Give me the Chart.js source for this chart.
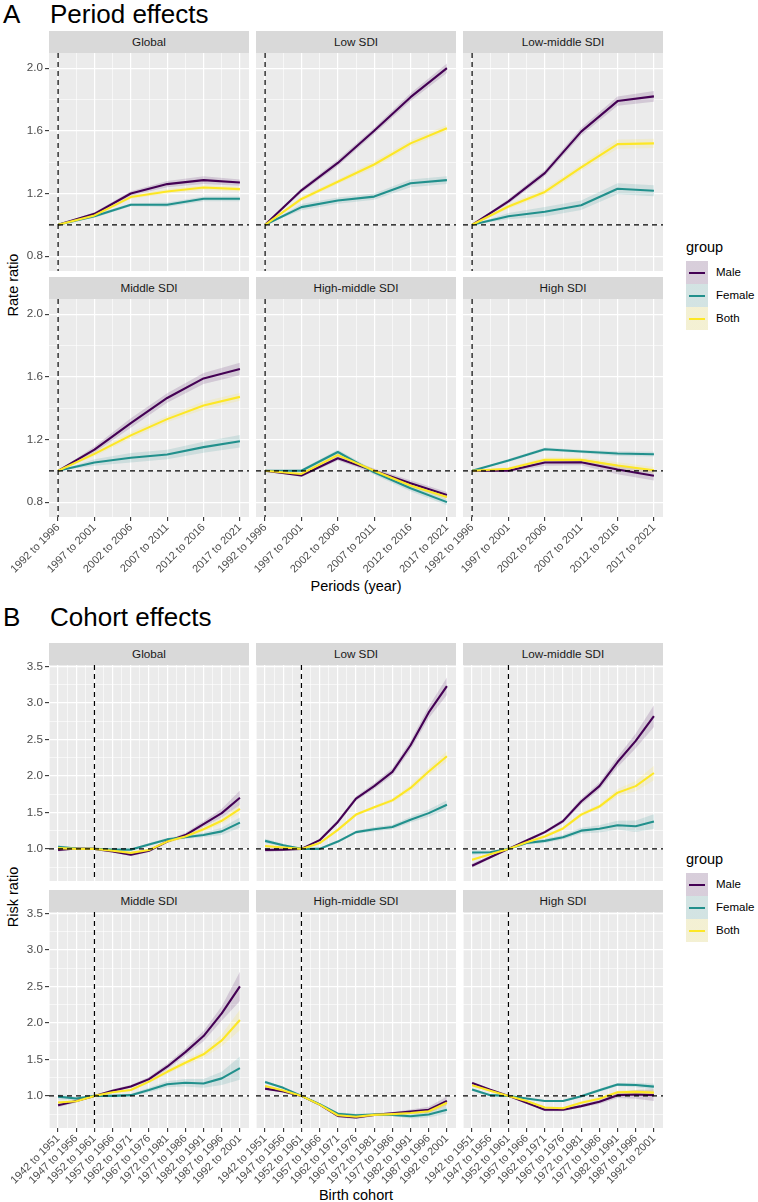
<!DOCTYPE html>
<html>
<head>
<meta charset="utf-8">
<script src="https://cdn.jsdelivr.net/npm/chart.js@4.4.1/dist/chart.umd.min.js"></script>
<style>
  body { margin: 0; background: #fff; font-family: "Liberation Sans", Arial, sans-serif; }
  #page { position: relative; width: 758px; height: 1202px; overflow: hidden; background: #fff; }
  .abs { position: absolute; white-space: nowrap; color: #000; }
  .strip { position: absolute; background: #D9D9D9; color: #1A1A1A; font-size: 11.7px; text-align: center; }
  canvas { position: absolute; }
</style>
</head>
<body>
<div id="page"></div>
<script>
// ---- data ----
const regions = ['Global', 'Low SDI', 'Low-middle SDI', 'Middle SDI', 'High-middle SDI', 'High SDI'];
const groups = ['Male', 'Female', 'Both'];
const periods = ['1992 to 1996', '1997 to 2001', '2002 to 2006', '2007 to 2011', '2012 to 2016', '2017 to 2021'];
const cohorts = ['1942 to 1951', '1947 to 1956', '1952 to 1961', '1957 to 1966', '1962 to 1971', '1967 to 1976',
                 '1972 to 1981', '1977 to 1986', '1982 to 1991', '1987 to 1996', '1992 to 2001'];
const periodTicks = [0.8, 1.2, 1.6, 2.0];
const cohortTicks = [1.0, 1.5, 2.0, 2.5, 3.0, 3.5];

// period rate ratios, one row per region (order of regions)
const periodMale = [
  [1.00, 1.07, 1.20, 1.26, 1.285, 1.27],
  [1.00, 1.22, 1.395, 1.60, 1.815, 2.00],
  [1.00, 1.15, 1.33, 1.595, 1.79, 1.82],
  [1.00, 1.135, 1.305, 1.465, 1.59, 1.65],
  [1.00, 0.97, 1.08, 1.00, 0.92, 0.845],
  [1.00, 1.00, 1.053, 1.055, 1.008, 0.968]
];
const periodFemale = [
  [1.00, 1.055, 1.128, 1.128, 1.166, 1.166],
  [1.00, 1.113, 1.155, 1.18, 1.265, 1.285],
  [1.00, 1.055, 1.083, 1.125, 1.23, 1.217],
  [1.00, 1.053, 1.083, 1.104, 1.151, 1.189],
  [1.00, 1.00, 1.12, 0.99, 0.889, 0.80],
  [1.00, 1.066, 1.138, 1.123, 1.11, 1.106]
];
const periodBoth = [
  [1.00, 1.06, 1.177, 1.213, 1.238, 1.228],
  [1.00, 1.165, 1.275, 1.385, 1.52, 1.617],
  [1.00, 1.117, 1.21, 1.366, 1.515, 1.52],
  [1.00, 1.108, 1.226, 1.33, 1.417, 1.472],
  [1.00, 0.98, 1.10, 1.00, 0.906, 0.832],
  [1.00, 1.013, 1.07, 1.07, 1.034, 1.004]
];
// half widths of the 95% bands
const periodMaleCI = [
  [0, 0.01, 0.015, 0.02, 0.025, 0.02],
  [0, 0.015, 0.02, 0.02, 0.025, 0.03],
  [0, 0.015, 0.02, 0.025, 0.03, 0.035],
  [0, 0.02, 0.03, 0.03, 0.035, 0.04],
  [0, 0.01, 0.015, 0.015, 0.02, 0.02],
  [0, 0.01, 0.02, 0.02, 0.03, 0.03]
];
const periodFemaleCI = [
  [0, 0.01, 0.01, 0.015, 0.015, 0.015],
  [0, 0.02, 0.02, 0.02, 0.025, 0.025],
  [0, 0.02, 0.03, 0.03, 0.035, 0.035],
  [0, 0.02, 0.03, 0.03, 0.035, 0.04],
  [0, 0.01, 0.015, 0.015, 0.02, 0.02],
  [0, 0.01, 0.01, 0.01, 0.015, 0.015]
];
const periodBothCI = [
  [0, 0.01, 0.01, 0.015, 0.015, 0.015],
  [0, 0.015, 0.015, 0.02, 0.02, 0.02],
  [0, 0.015, 0.02, 0.02, 0.03, 0.03],
  [0, 0.015, 0.02, 0.02, 0.025, 0.025],
  [0, 0.01, 0.01, 0.01, 0.015, 0.015],
  [0, 0.01, 0.015, 0.015, 0.02, 0.02]
];

// cohort risk ratios, one row per region
const cohortMale = [
  [0.985, 1.005, 1.00, 0.965, 0.92, 0.975, 1.10, 1.19, 1.34, 1.49, 1.70],
  [0.985, 0.99, 1.00, 1.12, 1.37, 1.69, 1.86, 2.055, 2.42, 2.87, 3.23],
  [0.77, 0.885, 1.00, 1.115, 1.23, 1.38, 1.65, 1.86, 2.19, 2.48, 2.82],
  [0.873, 0.93, 1.00, 1.07, 1.13, 1.23, 1.40, 1.60, 1.82, 2.13, 2.50],
  [1.10, 1.06, 1.00, 0.88, 0.725, 0.705, 0.74, 0.76, 0.785, 0.81, 0.93],
  [1.177, 1.086, 1.00, 0.905, 0.81, 0.81, 0.86, 0.92, 1.01, 1.02, 1.01]
];
const cohortFemale = [
  [1.03, 1.005, 1.00, 0.99, 0.99, 1.06, 1.13, 1.16, 1.19, 1.24, 1.36],
  [1.11, 1.05, 1.00, 1.00, 1.10, 1.23, 1.27, 1.30, 1.40, 1.49, 1.605],
  [0.95, 0.955, 1.00, 1.08, 1.11, 1.16, 1.25, 1.275, 1.325, 1.31, 1.375],
  [0.99, 0.965, 1.00, 1.00, 1.01, 1.08, 1.16, 1.18, 1.17, 1.24, 1.38],
  [1.19, 1.11, 1.00, 0.885, 0.755, 0.735, 0.745, 0.74, 0.72, 0.745, 0.81],
  [1.086, 1.01, 1.00, 0.965, 0.93, 0.93, 0.995, 1.077, 1.155, 1.15, 1.127]
];
const cohortBoth = [
  [1.01, 1.00, 1.00, 0.975, 0.945, 0.985, 1.10, 1.17, 1.27, 1.385, 1.55],
  [1.04, 1.02, 1.00, 1.08, 1.26, 1.47, 1.57, 1.665, 1.835, 2.06, 2.27],
  [0.85, 0.925, 1.00, 1.09, 1.17, 1.28, 1.47, 1.58, 1.77, 1.86, 2.04],
  [0.91, 0.927, 1.00, 1.05, 1.08, 1.195, 1.33, 1.455, 1.57, 1.76, 2.04],
  [1.135, 1.075, 1.00, 0.88, 0.735, 0.715, 0.74, 0.75, 0.765, 0.79, 0.905],
  [1.145, 1.07, 1.00, 0.93, 0.84, 0.83, 0.905, 0.96, 1.05, 1.055, 1.045]
];
const cohortMaleCI = [
  [0.02, 0.01, 0, 0.01, 0.02, 0.02, 0.02, 0.03, 0.04, 0.06, 0.10],
  [0.03, 0.02, 0, 0.02, 0.03, 0.03, 0.04, 0.05, 0.06, 0.08, 0.12],
  [0.03, 0.02, 0, 0.02, 0.02, 0.03, 0.04, 0.05, 0.07, 0.10, 0.15],
  [0.03, 0.02, 0, 0.02, 0.02, 0.03, 0.04, 0.05, 0.07, 0.10, 0.20],
  [0.02, 0.01, 0, 0.01, 0.02, 0.02, 0.02, 0.02, 0.03, 0.04, 0.06],
  [0.02, 0.01, 0, 0.01, 0.02, 0.02, 0.02, 0.03, 0.04, 0.06, 0.08]
];
const cohortFemaleCI = [
  [0.02, 0.01, 0, 0.01, 0.01, 0.02, 0.02, 0.02, 0.03, 0.05, 0.07],
  [0.03, 0.02, 0, 0.02, 0.02, 0.02, 0.03, 0.03, 0.04, 0.05, 0.06],
  [0.03, 0.02, 0, 0.02, 0.03, 0.03, 0.04, 0.05, 0.06, 0.08, 0.10],
  [0.04, 0.02, 0, 0.02, 0.02, 0.03, 0.04, 0.05, 0.06, 0.09, 0.16],
  [0.02, 0.01, 0, 0.01, 0.02, 0.02, 0.02, 0.02, 0.03, 0.04, 0.05],
  [0.02, 0.01, 0, 0.01, 0.01, 0.01, 0.02, 0.02, 0.02, 0.03, 0.04]
];
const cohortBothCI = [
  [0.01, 0.01, 0, 0.01, 0.01, 0.01, 0.02, 0.02, 0.03, 0.04, 0.06],
  [0.02, 0.01, 0, 0.01, 0.02, 0.02, 0.02, 0.03, 0.04, 0.05, 0.07],
  [0.02, 0.01, 0, 0.01, 0.02, 0.02, 0.03, 0.03, 0.05, 0.07, 0.10],
  [0.02, 0.01, 0, 0.01, 0.02, 0.02, 0.03, 0.04, 0.05, 0.08, 0.14],
  [0.01, 0.01, 0, 0.01, 0.01, 0.01, 0.01, 0.02, 0.02, 0.03, 0.04],
  [0.01, 0.01, 0, 0.01, 0.01, 0.01, 0.02, 0.02, 0.02, 0.03, 0.04]
];

// ---- styling / layout ----
const FONT = '"Liberation Sans", Arial, sans-serif';
const colors = ['#440154', '#21908C', '#FDE725'];
const bands = ['rgba(68,1,84,0.15)', 'rgba(33,144,140,0.15)', 'rgba(253,231,37,0.15)'];
const colX = [49, 256, 463];
const plotW = 200;
const axisW = 49;
const stripH = 22;
const topPad = 10; // room above the plot so the top tick label is not cut

const sections = [
  {
    letter: 'A', title: 'Period effects', titleTop: 1,
    labels: periods, series: [periodMale, periodFemale, periodBoth], ci: [periodMaleCI, periodFemaleCI, periodBothCI],
    yTicks: periodTicks, yMin: 0.705, yMax: 2.097, refX: 0,
    stripTops: [31, 277], plotTops: [53, 299], plotH: 218,
    xTitle: 'Periods (year)', xTitleTop: 578, yTitle: 'Rate ratio', legendTop: 240
  },
  {
    letter: 'B', title: 'Cohort effects', titleTop: 604,
    labels: cohorts, series: [cohortMale, cohortFemale, cohortBoth], ci: [cohortMaleCI, cohortFemaleCI, cohortBothCI],
    yTicks: cohortTicks, yMin: 0.56, yMax: 3.52, refX: 2,
    stripTops: [643, 890], plotTops: [665, 912], plotH: 216,
    xTitle: 'Birth cohort', xTitleTop: 1187, yTitle: 'Risk ratio', legendTop: 852
  }
];

const page = document.getElementById('page');
function addDiv(text, css, cls) {
  const d = document.createElement('div');
  d.className = cls || 'abs';
  if (text) d.textContent = text;
  Object.assign(d.style, css);
  page.appendChild(d);
  return d;
}

// minor breaks halfway between the majors, kept inside the range
function withMinors(majors, lo, hi) {
  const step = majors[1] - majors[0];
  const out = [];
  for (let v = majors[0] - step / 2; v <= majors[majors.length - 1] + step / 2 + 1e-9; v += step / 2) {
    const r = Math.round(v * 1000) / 1000;
    if (r >= lo && r <= hi) out.push(r);
  }
  return out;
}

const panelDecor = {
  id: 'panelDecor',
  beforeDraw(chart) {
    const a = chart.chartArea, ctx = chart.ctx;
    ctx.save();
    ctx.fillStyle = '#EBEBEB';
    ctx.fillRect(a.left, a.top, a.right - a.left, a.bottom - a.top);
    ctx.restore();
  },
  afterDatasetsDraw(chart, args, opts) {
    const a = chart.chartArea, ctx = chart.ctx;
    const py = chart.scales.y.getPixelForValue(1);
    const px = chart.scales.x.getPixelForValue(opts.refX);
    ctx.save();
    ctx.strokeStyle = '#000';
    ctx.lineWidth = 1.2;
    ctx.setLineDash([5, 4]);
    ctx.beginPath(); ctx.moveTo(a.left, py); ctx.lineTo(a.right, py); ctx.stroke();
    ctx.beginPath(); ctx.moveTo(px, a.top); ctx.lineTo(px, a.bottom); ctx.stroke();
    ctx.restore();
  }
};

function makePanel(sec, r) {
  const col = r % 3, row = Math.floor(r / 3);
  const isLeft = col === 0, isBottom = row === 1;
  const xH = isBottom ? 80 : 0;
  const n = sec.labels.length;
  const pad = (n - 1) * 0.05;

  addDiv(regions[r], {
    left: colX[col] + 'px', top: sec.stripTops[row] + 'px', width: plotW + 'px',
    height: stripH + 'px', lineHeight: stripH + 'px'
  }, 'strip');

  const cv = document.createElement('canvas');
  cv.width = plotW + axisW;
  cv.height = sec.plotH + xH + topPad;
  cv.style.left = (colX[col] - axisW) + 'px';
  cv.style.top = (sec.plotTops[row] - topPad) + 'px';
  page.appendChild(cv);

  const datasets = [];
  groups.forEach((g, gi) => {
    const v = sec.series[gi][r], c = sec.ci[gi][r];
    datasets.push({ data: v.map((y, i) => ({ x: i, y: y + c[i] })), borderColor: 'rgba(0,0,0,0)', borderWidth: 0, fill: false, order: 5 - gi });
    datasets.push({ data: v.map((y, i) => ({ x: i, y: y - c[i] })), borderColor: 'rgba(0,0,0,0)', borderWidth: 0, fill: '-1', backgroundColor: bands[gi], order: 5 - gi });
  });
  groups.forEach((g, gi) => {
    const v = sec.series[gi][r];
    datasets.push({ label: g, data: v.map((y, i) => ({ x: i, y: y })), borderColor: colors[gi], borderWidth: 2.1, fill: false, order: 2 - gi });
  });

  const xVals = withMinors(sec.labels.map((l, i) => i), -pad, n - 1 + pad);
  const yVals = withMinors(sec.yTicks, sec.yMin, sec.yMax);
  const isMajorX = v => Number.isInteger(v);
  const isMajorY = v => sec.yTicks.includes(v);

  new Chart(cv.getContext('2d'), {
    type: 'line',
    data: { datasets },
    plugins: [panelDecor],
    options: {
      responsive: false,
      animation: false,
      devicePixelRatio: 1,
      events: [],
      layout: { padding: { top: topPad, left: 0, right: 0, bottom: 0 } },
      elements: { point: { radius: 0 }, line: { tension: 0, borderCapStyle: 'butt', borderJoinStyle: 'round' } },
      plugins: { legend: { display: false }, tooltip: { enabled: false }, panelDecor: { refX: sec.refX } },
      scales: {
        x: {
          type: 'linear', bounds: 'data', min: -pad, max: n - 1 + pad,
          afterBuildTicks: s => { s.ticks = xVals.map(v => ({ value: v })); },
          afterFit: s => { s.height = xH; s.paddingLeft = 0; s.paddingRight = 0; },
          ticks: {
            display: isBottom, autoSkip: false, minRotation: 45, maxRotation: 45, padding: 0,
            color: '#4D4D4D', font: { family: FONT, size: 11 },
            callback: v => isMajorX(v) ? sec.labels[v] : ''
          },
          grid: {
            color: '#FFFFFF',
            lineWidth: c => (c.tick && isMajorX(c.tick.value)) ? 1.2 : 0.6,
            drawTicks: isBottom, tickLength: 4, tickWidth: 1.1,
            tickColor: c => (c.tick && isMajorX(c.tick.value)) ? '#333333' : 'rgba(0,0,0,0)'
          },
          border: { display: false }
        },
        y: {
          type: 'linear', bounds: 'data', min: sec.yMin, max: sec.yMax,
          afterBuildTicks: s => { s.ticks = yVals.map(v => ({ value: v })); },
          afterFit: s => { s.width = axisW; s.paddingTop = 0; s.paddingBottom = 0; },
          ticks: {
            display: isLeft, padding: 2,
            color: '#4D4D4D', font: { family: FONT, size: 11.7 },
            callback: v => isMajorY(v) ? v.toFixed(1) : ''
          },
          grid: {
            color: '#FFFFFF',
            lineWidth: c => (c.tick && isMajorY(c.tick.value)) ? 1.2 : 0.6,
            drawTicks: isLeft, tickLength: 4, tickWidth: 1.1,
            tickColor: c => (c.tick && isMajorY(c.tick.value)) ? '#333333' : 'rgba(0,0,0,0)'
          },
          border: { display: false }
        }
      }
    }
  });
}

function makeLegend(top) {
  addDiv('group', { left: '686px', top: top + 'px', fontSize: '14.5px', lineHeight: '14px' });
  groups.forEach((g, gi) => {
    const ky = top + 21 + gi * 23;
    addDiv('', {
      left: '686px', top: ky + 'px', width: '22px', height: '23px',
      background: 'linear-gradient(' + bands[gi] + ',' + bands[gi] + '), #F2F2F2'
    });
    addDiv('', { left: '689px', top: (ky + 10.5) + 'px', width: '16px', height: '2px', background: colors[gi] });
    addDiv(g, { left: '716px', top: (ky + 5) + 'px', fontSize: '11.5px', lineHeight: '13px', color: '#000' });
  });
}

sections.forEach(sec => {
  addDiv(sec.letter, { left: '3px', top: sec.titleTop + 'px', fontSize: '26px', lineHeight: '26px' });
  addDiv(sec.title, { left: '50px', top: sec.titleTop + 'px', fontSize: '26px', lineHeight: '26px' });

  const midY = (sec.plotTops[0] + sec.plotTops[1] + sec.plotH) / 2;
  addDiv(sec.yTitle, {
    left: (13 - 100) + 'px', top: (midY - 8) + 'px', width: '200px', height: '16px',
    lineHeight: '16px', fontSize: '14.5px', textAlign: 'center', transform: 'rotate(-90deg)'
  });
  addDiv(sec.xTitle, {
    left: colX[0] + 'px', top: sec.xTitleTop + 'px', width: (colX[2] + plotW - colX[0]) + 'px',
    fontSize: '14.5px', lineHeight: '16px', textAlign: 'center'
  });

  makeLegend(sec.legendTop);
  regions.forEach((reg, r) => makePanel(sec, r));
});
</script>
</body>
</html>
